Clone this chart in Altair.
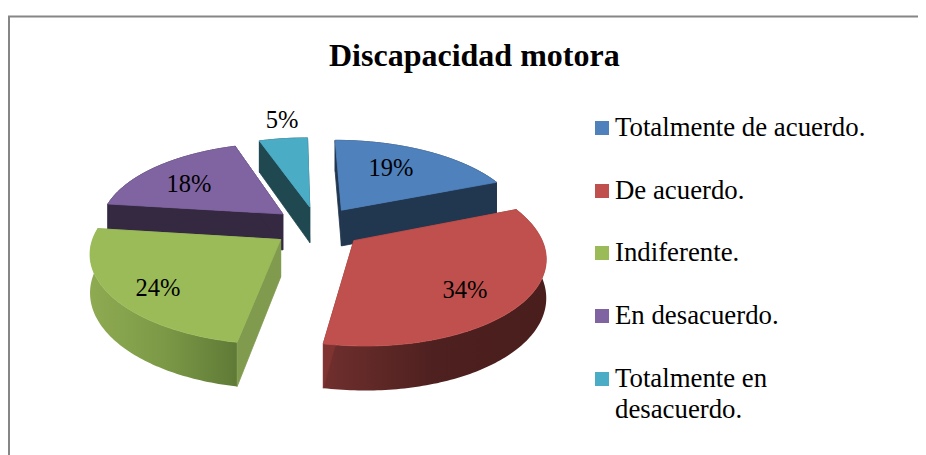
import math
import altair as alt
import pandas as pd

TITLE = "Discapacidad motora"
categories = ["Totalmente de acuerdo.", "De acuerdo.", "Indiferente.", "En desacuerdo.",
              "Totalmente en\ndesacuerdo."]
percent = [19, 34, 24, 18, 5]
colors = ["#4F81BD", "#C0504D", "#9BBB59", "#8064A2", "#4BACC6"]
side_colors = ["#21364F", "#7F3432", "#809A4E", "#352841", "#1F4851"]
labels = ["19%", "34%", "24%", "18%", "5%"]

# page-pixel layout of labels and legend
label_x = [391, 465, 158, 189, 282]
label_y = [169, 291, 289, 185, 121]
legend_x = 602
legend_y = [128, 191, 253, 316, 379]

# view parameters of the tilted pie
X0, Y0, K, A, P, EXPLODE, H, SHEAR = 317.5, 227, 184, 85.0, 0.15, 0.246, 0.2, 0.045

# side gradients (left to right) of the two front slices
rim_gradients = {
    1: [(0, "#702F2D"), (0.25, "#5E2826"), (0.5, "#4E2020"), (1, "#4A1E1D")],
    2: [(0, "#8EAB52"), (0.5, "#7C9947"), (1, "#5F7A36")],
}


def project(a_deg, radius, mid_deg, depth=0.0):
    a, m = math.radians(a_deg), math.radians(mid_deg)
    wx = EXPLODE * math.sin(m) + radius * math.sin(a)
    wy = -EXPLODE * math.cos(m) - radius * math.cos(a)
    w = 1 - P * wy
    y = Y0 + A * wy / w
    return X0 + wx * K / w + SHEAR * (y - Y0), y + depth * K / w


def poly(rows, pid, col, pts):
    for n, (x, y) in enumerate(pts):
        rows.append(dict(pid=pid, col=col, n=n, x=x, y=y))


x_scale = alt.Scale(domain=[8, 918], nice=False, zero=False)
y_scale = alt.Scale(domain=[455, 8], nice=False, zero=False)
pos = dict(
    x=alt.X("x:Q", scale=x_scale, axis=None),
    y=alt.Y("y:Q", scale=y_scale, axis=None),
)


def polygon_layer(rows):
    return alt.Chart(pd.DataFrame(rows)).mark_line(strokeWidth=0.8, interpolate="linear").encode(
        detail="pid:N",
        order="n:Q",
        color=alt.Color("col:N", scale=None),
        fill=alt.Fill("col:N", scale=None),
        **pos,
    )


def gradient_layer(rows, stops):
    fill = alt.LinearGradient(
        gradient="linear", x1=0, x2=1, y1=0, y2=0,
        stops=[alt.GradientStop(offset=o, color=c) for o, c in stops],
    )
    return alt.Chart(pd.DataFrame(rows)).mark_line(fill=fill, strokeWidth=0, interpolate="linear").encode(
        order="n:Q", **pos,
    )


layers = []

# frame of the chart
frame = pd.DataFrame({"x": [9, 9, 918], "y": [455, 16.5, 16.5]})
layers.append(alt.Chart(frame).mark_line(color="#868686", strokeWidth=2).encode(
    order=alt.Order("x:Q"), **pos,
))

# side walls, back slices first
bounds = []
start = 0.0
for v in percent:
    bounds.append((start, start + v * 3.6))
    start += v * 3.6

top_rows = []
for i in [0, 4, 3, 2, 1]:
    a0, a1 = bounds[i]
    mid = (a0 + a1) / 2
    steps = max(2, int(a1 - a0))
    angles = [a0 + (a1 - a0) * k / steps for k in range(steps + 1)]
    rim = [project(a, 1, mid) for a in angles] + [project(a, 1, mid, H) for a in reversed(angles)]
    rim.append(rim[0])
    rows = []
    poly(rows, f"r{i}", side_colors[i], rim)
    if i in rim_gradients:
        layers.append(gradient_layer(rows, rim_gradients[i]))
        rows = []
    for name, a in (("a", a0), ("b", a1)):
        pts = [project(a, 0, mid), project(a, 1, mid), project(a, 1, mid, H), project(a, 0, mid, H)]
        pts.append(pts[0])
        poly(rows, f"s{i}{name}", side_colors[i], pts)
    layers.append(polygon_layer(rows))
    outline = [project(a, 0, mid)] + [project(a, 1, mid) for a in angles] + [project(a0, 0, mid)]
    poly(top_rows, f"t{i}", colors[i], outline)

layers.append(polygon_layer(top_rows))

# value labels
lab = pd.DataFrame({"label": labels, "x": label_x, "y": label_y})
layers.append(alt.Chart(lab).mark_text(font="Liberation Serif", fontSize=24.5, color="#000000").encode(
    text="label:N", **pos,
))

# legend
leg = pd.DataFrame({"cat": categories, "col": colors, "x": [legend_x] * 5, "y": legend_y})
layers.append(alt.Chart(leg).mark_square(size=196, opacity=1).encode(
    color=alt.Color("col:N", scale=None), **pos,
))
layers.append(alt.Chart(leg).mark_text(font="Liberation Serif", fontSize=26.8, color="#000000",
                                       align="left", baseline="alphabetic", dx=13, dy=8,
                                       lineBreak="\n", lineHeight=31).encode(
    text="cat:N", **pos,
))

chart = alt.layer(*layers).properties(
    width=910, height=447, padding=0,
    autosize=alt.AutoSizeParams(type="none"),
    background="#ffffff",
    title=alt.TitleParams(TITLE, font="Liberation Serif", fontSize=32, fontWeight="bold",
                          color="#000000", anchor="start", dx=321, dy=65, offset=0,
                          frame="group"),
).configure_view(stroke=None)

chart.save("out.html", embed_options={"renderer": "svg", "actions": False})
